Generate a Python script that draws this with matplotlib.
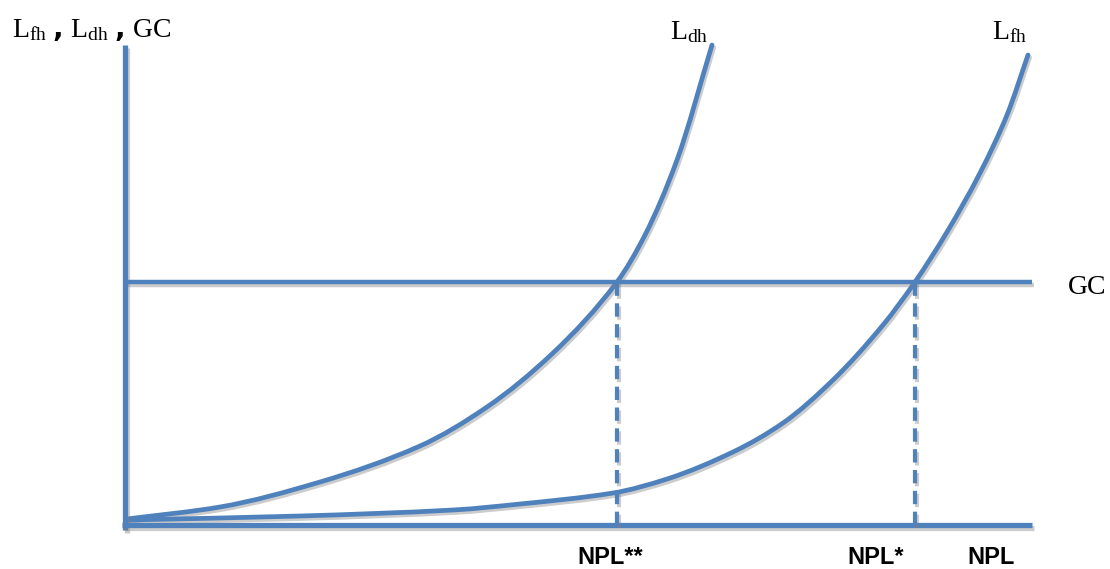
import matplotlib
matplotlib.use("Agg")
import matplotlib.pyplot as plt
import matplotlib.patheffects as pe
from matplotlib.path import Path
from matplotlib.patches import PathPatch

plt.rcParams['mathtext.fontset'] = 'custom'
plt.rcParams['mathtext.rm'] = 'Liberation Serif'
plt.rcParams['mathtext.it'] = 'Liberation Serif:italic'

# Courbes (unités arbitraires, origine au coin des axes)
ldh_x = [2, 95, 195, 295, 362, 428, 492, 520, 552, 587]
ldh_y = [6, 18, 43, 79, 118, 172, 243, 290, 365, 480]

lfh_x = [2, 175, 328, 395, 488, 542, 608, 658, 708, 758, 790, 822, 855, 882, 903]
lfh_y = [5, 9, 15, 21, 32, 46, 73, 102, 145, 200, 243, 293, 352, 410, 470]

gc = 243
npl_2star = 492
npl_star = 790
x_max = 907
y_max = 480

bleu = "#4F81BD"
ombre = [pe.SimpleLineShadow(offset=(1.2, -1.8), shadow_color="gray", alpha=0.4), pe.Normal()]


def courbe_lisse(xs, ys):
    # chemin de Bézier (Hermite monotone) passant par les points lus
    n = len(xs)
    sec = [(ys[i + 1] - ys[i]) / (xs[i + 1] - xs[i]) for i in range(n - 1)]
    pentes = [sec[0]]
    for i in range(1, n - 1):
        a, b = sec[i - 1], sec[i]
        pentes.append(2 * a * b / (a + b) if a * b > 0 else 0)
    pentes.append(sec[-1])
    verts = [(xs[0], ys[0])]
    codes = [Path.MOVETO]
    for i in range(n - 1):
        h = xs[i + 1] - xs[i]
        verts += [(xs[i] + h / 3, ys[i] + pentes[i] * h / 3),
                  (xs[i + 1] - h / 3, ys[i + 1] - pentes[i + 1] * h / 3),
                  (xs[i + 1], ys[i + 1])]
        codes += [Path.CURVE4] * 3
    return Path(verts, codes)


fig = plt.figure(figsize=(11.1, 5.69), dpi=100)
ax = fig.add_axes([0, 0, 1, 1])
ax.set_xlim(-125, 985)
ax.set_ylim(-44, 525)
ax.axis("off")

# axes
ax.plot([0, 0], [-5, y_max], color=bleu, lw=3.8, solid_capstyle="butt", path_effects=ombre)
ax.plot([-3, x_max], [0, 0], color=bleu, lw=3.8, solid_capstyle="butt", path_effects=ombre)

# GC
ax.plot([0, x_max], [gc, gc], color=bleu, lw=3.2, solid_capstyle="butt", path_effects=ombre)

# pointillés
for xv in [npl_2star, npl_star]:
    ax.plot([xv, xv], [0, gc], color=bleu, lw=3, linestyle=(0, (3.2, 1.8)), path_effects=ombre)

# courbes
for xs, ys in [(ldh_x, ldh_y), (lfh_x, lfh_y)]:
    patch = PathPatch(courbe_lisse(xs, ys), fill=False, edgecolor=bleu, lw=3.4,
                      capstyle="round", path_effects=ombre)
    ax.add_patch(patch)

# textes
serif = "Liberation Serif"
ax.text(-113, 495, r"$\mathrm{L_{fh}}$ $\mathbf{,}$ $\mathrm{L_{dh}}$ $\mathbf{,}$ GC", family=serif,
        fontsize=20, va="center", ha="left")
ax.text(545, 493, r"$\mathrm{L_{dh}}$", family=serif, fontsize=20, va="center", ha="left")
ax.text(867, 493, r"$\mathrm{L_{fh}}$", family=serif, fontsize=20, va="center", ha="left")
ax.text(943, 238, "GC", family=serif, fontsize=20, va="center", ha="left")

sans = "Liberation Sans"
ax.text(452, -33, "NPL**", family=sans, fontsize=17, fontweight="bold", va="center", ha="left")
ax.text(722, -33, "NPL*", family=sans, fontsize=17, fontweight="bold", va="center", ha="left")
ax.text(842, -33, "NPL", family=sans, fontsize=17, fontweight="bold", va="center", ha="left")

fig.savefig("out.png", dpi=100)
